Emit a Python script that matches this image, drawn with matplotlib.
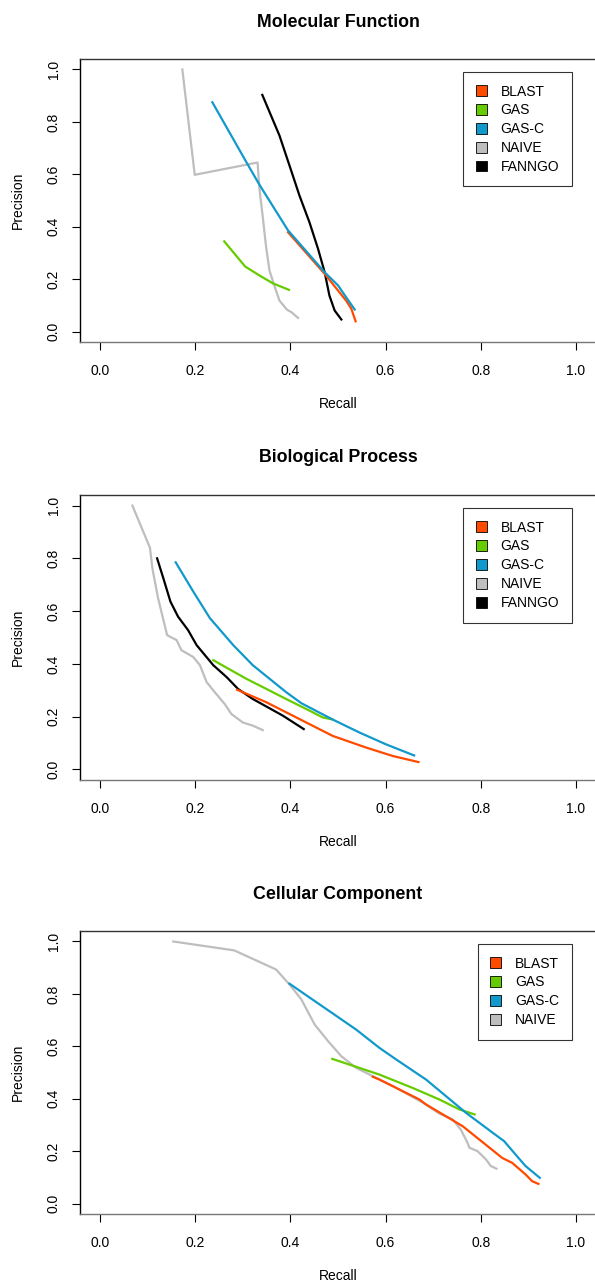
import matplotlib

matplotlib.use("Agg")
import matplotlib.pyplot as plt
from matplotlib.patches import Patch

plt.rcParams["font.family"] = ["Liberation Sans", "DejaVu Sans"]

METHODS = ["BLAST", "GAS", "GAS-C", "NAIVE", "FANNGO"]
COLORS = {
    "BLAST": "#ff4a00",
    "GAS": "#66cc00",
    "GAS-C": "#1199cc",
    "NAIVE": "#bebebe",
    "FANNGO": "#000000",
}

# Molecular Function
mf_blast_recall = [0.395, 0.472, 0.517, 0.528, 0.537]
mf_blast_prec = [0.379, 0.220, 0.118, 0.087, 0.039]
mf_gas_recall = [0.261, 0.305, 0.335, 0.363, 0.397]
mf_gas_prec = [0.344, 0.248, 0.214, 0.184, 0.159]
mf_gasc_recall = [0.236, 0.307, 0.335, 0.395, 0.472, 0.500, 0.517, 0.535]
mf_gasc_prec = [0.875, 0.648, 0.560, 0.386, 0.226, 0.176, 0.131, 0.084]
mf_naive_recall = [0.173, 0.199, 0.331, 0.335, 0.342, 0.349, 0.356, 0.365, 0.377, 0.393, 0.402, 0.416]
mf_naive_prec = [1.000, 0.598, 0.645, 0.545, 0.436, 0.322, 0.233, 0.182, 0.118, 0.083, 0.074, 0.052]
mf_fanngo_recall = [0.341, 0.377, 0.398, 0.419, 0.440, 0.458, 0.472, 0.482, 0.493, 0.507]
mf_fanngo_prec = [0.903, 0.748, 0.634, 0.519, 0.417, 0.316, 0.226, 0.137, 0.080, 0.046]

# Biological Process
bp_blast_recall = [0.288, 0.349, 0.419, 0.489, 0.559, 0.615, 0.669]
bp_blast_prec = [0.302, 0.255, 0.191, 0.127, 0.083, 0.051, 0.028]
bp_gas_recall = [0.238, 0.307, 0.342, 0.391, 0.440, 0.468, 0.489]
bp_gas_prec = [0.414, 0.344, 0.312, 0.267, 0.223, 0.197, 0.189]
bp_gasc_recall = [0.159, 0.196, 0.231, 0.280, 0.321, 0.391, 0.423, 0.489, 0.545, 0.601, 0.660]
bp_gasc_prec = [0.785, 0.674, 0.573, 0.471, 0.395, 0.293, 0.251, 0.189, 0.140, 0.095, 0.053]
bp_naive_recall = [0.068, 0.105, 0.110, 0.122, 0.141, 0.161, 0.171, 0.196, 0.210, 0.224,
                   0.241, 0.262, 0.276, 0.300, 0.321, 0.342]
bp_naive_prec = [1.000, 0.840, 0.763, 0.649, 0.509, 0.490, 0.452, 0.426, 0.395, 0.331,
                 0.293, 0.248, 0.210, 0.178, 0.166, 0.149]
bp_fanngo_recall = [0.120, 0.133, 0.148, 0.164, 0.185, 0.203, 0.238, 0.266, 0.290, 0.321, 0.384, 0.428]
bp_fanngo_prec = [0.800, 0.725, 0.636, 0.579, 0.528, 0.471, 0.395, 0.350, 0.305, 0.267, 0.204, 0.153]

# Cellular Component
cc_blast_recall = [0.573, 0.587, 0.671, 0.685, 0.762, 0.797, 0.845, 0.866, 0.894, 0.908, 0.921]
cc_blast_prec = [0.484, 0.473, 0.397, 0.378, 0.295, 0.244, 0.174, 0.155, 0.111, 0.085, 0.075]
cc_gas_recall = [0.488, 0.587, 0.657, 0.713, 0.755, 0.787]
cc_gas_prec = [0.552, 0.492, 0.441, 0.397, 0.359, 0.340]
cc_gasc_recall = [0.398, 0.538, 0.587, 0.622, 0.685, 0.769, 0.825, 0.849, 0.873, 0.894, 0.924]
cc_gasc_prec = [0.839, 0.664, 0.594, 0.550, 0.473, 0.346, 0.270, 0.238, 0.187, 0.143, 0.098]
cc_naive_recall = [0.154, 0.282, 0.370, 0.398, 0.423, 0.451, 0.479, 0.507, 0.538, 0.573, 0.615,
                   0.678, 0.713, 0.741, 0.758, 0.772, 0.776, 0.793, 0.811, 0.821, 0.833]
cc_naive_prec = [1.000, 0.966, 0.893, 0.836, 0.779, 0.683, 0.620, 0.562, 0.518, 0.486, 0.449,
                 0.385, 0.343, 0.321, 0.282, 0.232, 0.213, 0.200, 0.168, 0.143, 0.133]

PANELS = [
    ("Molecular Function", {
        "BLAST": (mf_blast_recall, mf_blast_prec),
        "GAS": (mf_gas_recall, mf_gas_prec),
        "GAS-C": (mf_gasc_recall, mf_gasc_prec),
        "NAIVE": (mf_naive_recall, mf_naive_prec),
        "FANNGO": (mf_fanngo_recall, mf_fanngo_prec),
    }),
    ("Biological Process", {
        "BLAST": (bp_blast_recall, bp_blast_prec),
        "GAS": (bp_gas_recall, bp_gas_prec),
        "GAS-C": (bp_gasc_recall, bp_gasc_prec),
        "NAIVE": (bp_naive_recall, bp_naive_prec),
        "FANNGO": (bp_fanngo_recall, bp_fanngo_prec),
    }),
    ("Cellular Component", {
        "BLAST": (cc_blast_recall, cc_blast_prec),
        "GAS": (cc_gas_recall, cc_gas_prec),
        "GAS-C": (cc_gasc_recall, cc_gasc_prec),
        "NAIVE": (cc_naive_recall, cc_naive_prec),
    }),
]

TICKS = [0.0, 0.2, 0.4, 0.6, 0.8, 1.0]
W, H = 595, 1286
# (top, bottom) of each plot box in pixels
BOXES = [(59, 342), (495, 780), (931, 1214)]


def draw_panel(ax, title, curves):
    # draw order: NAIVE underneath, then the others
    for name in ["NAIVE", "FANNGO", "GAS", "BLAST", "GAS-C"]:
        if name in curves:
            x, y = curves[name]
            ax.plot(x, y, color=COLORS[name], lw=1.6, solid_joinstyle="round")
    ax.set_xlim(-0.042, 1.042)
    ax.set_ylim(-0.04, 1.04)
    ax.set_xticks(TICKS)
    ax.set_yticks(TICKS)
    ax.set_xticklabels([f"{t:.1f}" for t in TICKS])
    ax.set_yticklabels([f"{t:.1f}" for t in TICKS], rotation=90, va="center")
    ax.tick_params(axis="both", length=5.8, width=0.8, labelsize=10, direction="out")
    ax.tick_params(axis="x", pad=10)
    ax.tick_params(axis="y", pad=8)
    ax.spines["right"].set_visible(False)
    ax.spines["top"].set_color("#333333")
    ax.spines["bottom"].set_color("#777777")
    ax.spines["left"].set_color("black")
    for s in ax.spines.values():
        s.set_linewidth(1.0)
    ax.set_xlabel("Recall", fontsize=10, labelpad=14)
    ax.set_ylabel("Precision", fontsize=10, labelpad=15.5)
    ax.text(0.5, 1.13, title, transform=ax.transAxes, ha="center", va="center",
            fontsize=12.8, fontweight="bold")
    handles = [Patch(facecolor=COLORS[n], edgecolor="black", linewidth=0.6, label=n)
               for n in METHODS if n in curves]
    leg = ax.legend(handles=handles, loc="upper right", bbox_to_anchor=(0.953, 0.954),
                    fontsize=10, frameon=True, fancybox=False, borderpad=0.9,
                    handlelength=0.8, handleheight=0.8, handletextpad=1.0,
                    labelspacing=0.35, borderaxespad=0)
    leg.get_frame().set_edgecolor("black")
    leg.get_frame().set_linewidth(0.8)


def main():
    fig = plt.figure(figsize=(W / 100, H / 100), dpi=100)
    for (title, curves), (top, bottom) in zip(PANELS, BOXES):
        ax = fig.add_axes([80 / W, 1 - bottom / H, 516 / W, (bottom - top) / H])
        draw_panel(ax, title, curves)
    fig.savefig("out.png", dpi=100)
    plt.close(fig)


if __name__ == "__main__":
    main()
